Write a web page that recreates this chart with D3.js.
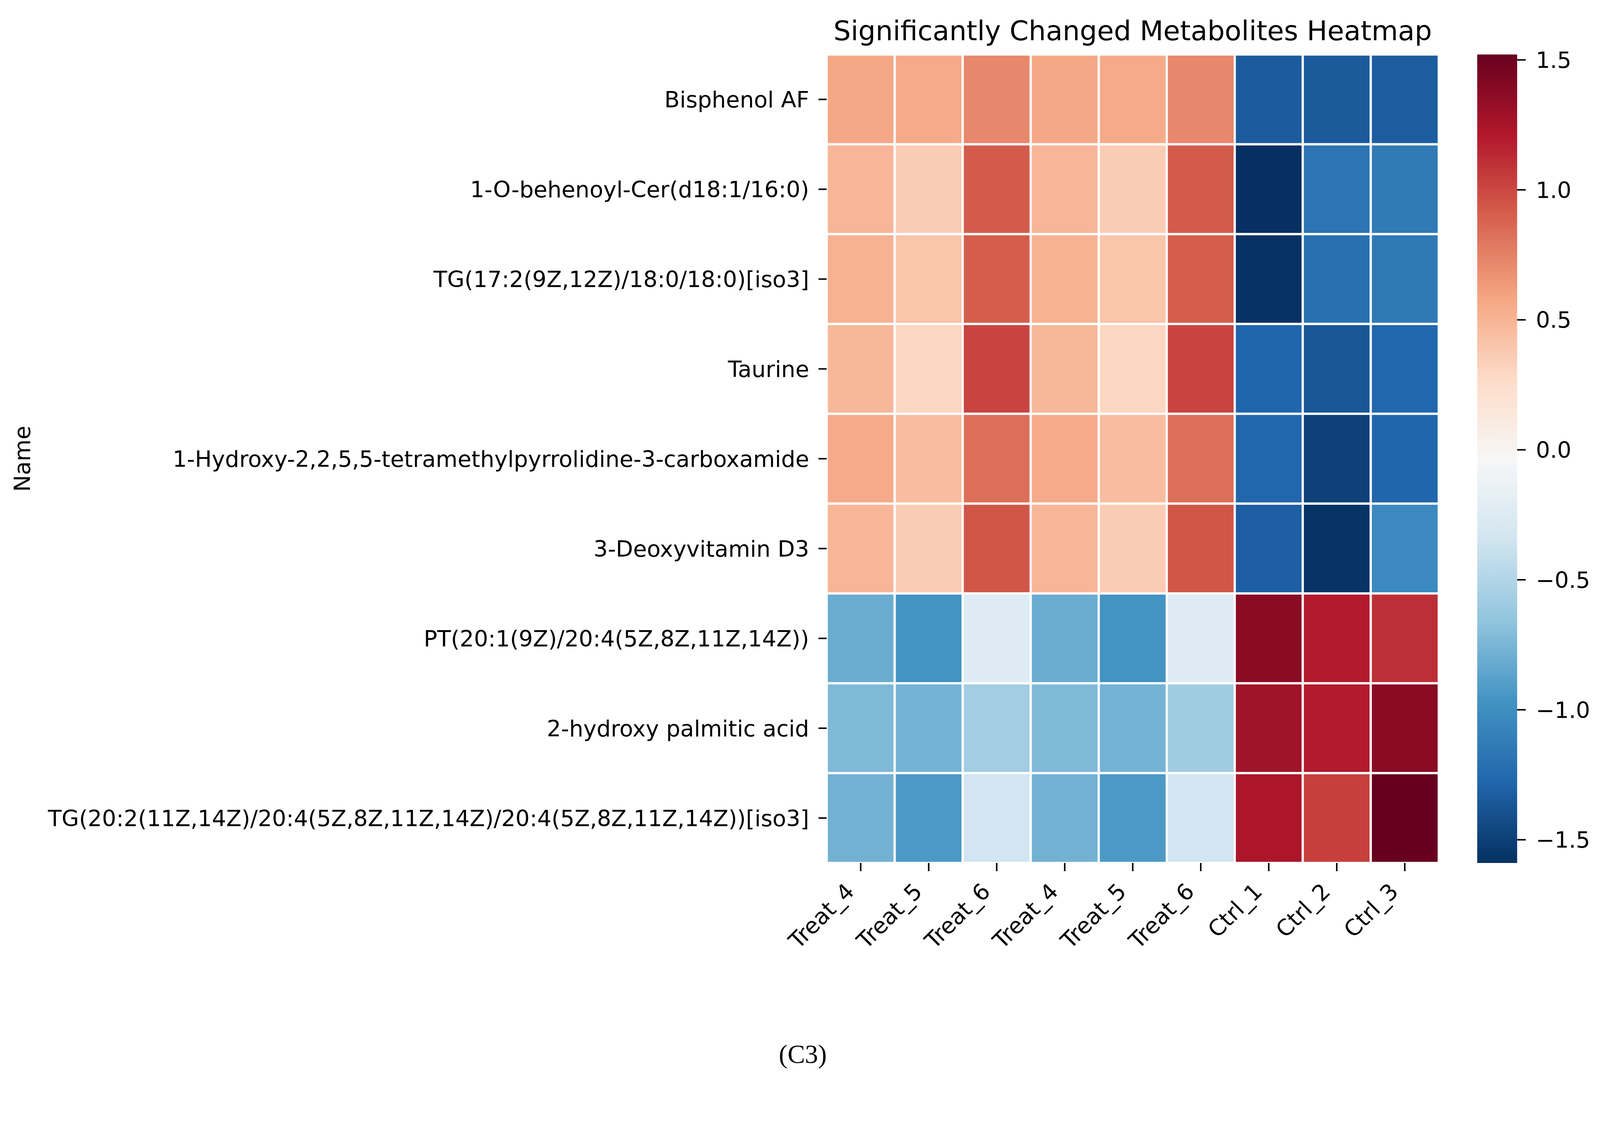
<!DOCTYPE html>
<html>
<head>
<meta charset="utf-8">
<script src="https://cdn.jsdelivr.net/npm/d3@7"></script>
<style>
  html, body { margin: 0; padding: 0; background: #fff; overflow: hidden; }
  .chart svg { display: block; width: 100vw; height: 100vh; }
  text { font-family: "DejaVu Sans", sans-serif; fill: #000; }
</style>
</head>
<body>
<div class="chart"></div>
<script>
// row names (top to bottom) and column sample names (left to right)
var metabolites = [
  "Bisphenol AF",
  "1-O-behenoyl-Cer(d18:1/16:0)",
  "TG(17:2(9Z,12Z)/18:0/18:0)[iso3]",
  "Taurine",
  "1-Hydroxy-2,2,5,5-tetramethylpyrrolidine-3-carboxamide",
  "3-Deoxyvitamin D3",
  "PT(20:1(9Z)/20:4(5Z,8Z,11Z,14Z))",
  "2-hydroxy palmitic acid",
  "TG(20:2(11Z,14Z)/20:4(5Z,8Z,11Z,14Z)/20:4(5Z,8Z,11Z,14Z))[iso3]"
];
var samples = ["Treat_4","Treat_5","Treat_6","Treat_4","Treat_5","Treat_6","Ctrl_1","Ctrl_2","Ctrl_3"];

// z-scores per metabolite, one value per sample column
var bisphenolAF   = [0.57, 0.55, 0.72, 0.57, 0.55, 0.72, -1.34, -1.35, -1.33];
var behenoylCer   = [0.49, 0.36, 0.92, 0.49, 0.36, 0.92, -1.59, -1.18, -1.14];
var tg17          = [0.51, 0.40, 0.91, 0.51, 0.40, 0.91, -1.58, -1.21, -1.15];
var taurine       = [0.48, 0.30, 1.02, 0.48, 0.30, 1.02, -1.28, -1.37, -1.27];
var hydroxyTMP    = [0.55, 0.45, 0.83, 0.55, 0.45, 0.83, -1.27, -1.49, -1.28];
var deoxyvitD3    = [0.49, 0.36, 0.94, 0.49, 0.36, 0.94, -1.32, -1.57, -1.04];
var pt20          = [-0.81, -0.97, -0.24, -0.81, -0.97, -0.24, 1.38, 1.20, 1.11];
var hydroxyPalm   = [-0.73, -0.77, -0.58, -0.73, -0.77, -0.59, 1.28, 1.20, 1.38];
var tg20          = [-0.78, -0.93, -0.34, -0.78, -0.93, -0.34, 1.23, 1.04, 1.52];

var rows = [bisphenolAF, behenoylCer, tg17, taurine, hydroxyTMP, deoxyvitD3, pt20, hydroxyPalm, tg20];
var cbarTicks = [-1.5, -1.0, -0.5, 0.0, 0.5, 1.0, 1.5];

var width = 4287, height = 2890;

// fixed drawing space, scaled to whatever viewport the page gets (kept at top)
var svg = d3.select('.chart').append('svg')
  .attr('viewBox', '0 0 ' + width + ' ' + height)
  .attr('preserveAspectRatio', 'xMidYMin meet')
  .style('background', '#fff');

var cells = [];
rows.forEach(function(r, ri){
  r.forEach(function(v, ci){ cells.push({row: metabolites[ri], col: ci, value: v}); });
});

var ext = d3.extent(cells, function(d){ return d.value; });
var vmin = ext[0], vmax = ext[1];

// RdBu_r, linear between the 11 anchor colours like matplotlib
var rdbu = ["#053061","#2166ac","#4393c3","#92c5de","#d1e5f0","#f7f7f7","#fddbc7","#f4a582","#d6604d","#b2182b","#67001f"];
var color = d3.scaleLinear()
  .domain(d3.range(11).map(function(k){ return vmin + k * (vmax - vmin) / 10; }))
  .range(rdbu)
  .interpolate(d3.interpolateRgb);

var xScale = d3.scaleBand().domain(d3.range(samples.length)).range([2215, 3855]);
var yScale = d3.scaleBand().domain(metabolites).range([146, 2312]);

// cells
svg.append('g').selectAll('rect')
  .data(cells)
  .enter()
  .append('rect')
  .attr('x', function(d){ return xScale(d.col); })
  .attr('y', function(d){ return yScale(d.row); })
  .attr('width', xScale.bandwidth())
  .attr('height', yScale.bandwidth())
  .attr('fill', function(d){ return color(d.value); })
  .attr('stroke', '#fff')
  .attr('stroke-width', 6);

// y axis
var yAxis = svg.append('g')
  .attr('transform', 'translate(2215,0)')
  .call(d3.axisLeft(yScale).tickSize(22).tickPadding(25));
yAxis.select('.domain').remove();
yAxis.selectAll('line').attr('stroke-width', 4);
yAxis.selectAll('text').style('font-size', '60px').attr('dy', '0.36em');

// x axis, labels rotated 45 deg
var xAxis = svg.append('g')
  .attr('transform', 'translate(0,2312)')
  .call(d3.axisBottom(xScale).tickSize(22).tickFormat(function(i){ return samples[i]; }));
xAxis.select('.domain').remove();
xAxis.selectAll('line').attr('stroke-width', 4);
xAxis.selectAll('text')
  .style('font-size', '60px')
  .attr('x', 0).attr('y', 0).attr('dy', 0)
  .attr('text-anchor', 'end')
  .attr('transform', 'translate(-14,80) rotate(-45)');

// colorbar
var cbX = 3958, cbW = 107;
var cScale = d3.scaleLinear().domain([vmin, vmax]).range([2312, 146]);
var grad = svg.append('defs').append('linearGradient')
  .attr('id', 'cbar').attr('x1', 0).attr('x2', 0).attr('y1', 1).attr('y2', 0);
grad.selectAll('stop')
  .data(d3.range(0, 1.0001, 0.02))
  .enter().append('stop')
  .attr('offset', function(t){ return t; })
  .attr('stop-color', function(t){ return color(vmin + t * (vmax - vmin)); });
svg.append('rect')
  .attr('x', cbX).attr('y', cScale(vmax))
  .attr('width', cbW).attr('height', cScale(vmin) - cScale(vmax))
  .attr('fill', 'url(#cbar)');

var cAxis = svg.append('g')
  .attr('transform', 'translate(' + (cbX + cbW) + ',0)')
  .call(d3.axisRight(cScale).tickValues(cbarTicks).tickSize(23).tickPadding(27).tickFormat(d3.format('.1f')));
cAxis.select('.domain').remove();
cAxis.selectAll('line').attr('stroke-width', 4);
cAxis.selectAll('text').style('font-size', '60px').attr('dy', '0.36em');

// titles
svg.append('text')
  .attr('x', 3035).attr('y', 108)
  .attr('text-anchor', 'middle')
  .style('font-size', '73px')
  .text('Significantly Changed Metabolites Heatmap');

svg.append('text')
  .attr('transform', 'translate(59,1229) rotate(-90)')
  .attr('text-anchor', 'middle')
  .attr('dy', '0.36em')
  .style('font-size', '60px')
  .text('Name');

svg.append('text')
  .attr('x', 2151).attr('y', 2848)
  .attr('text-anchor', 'middle')
  .style('font-family', '"Liberation Serif", "Times New Roman", serif')
  .style('font-size', '70px')
  .text('(C3)');
</script>
</body>
</html>
